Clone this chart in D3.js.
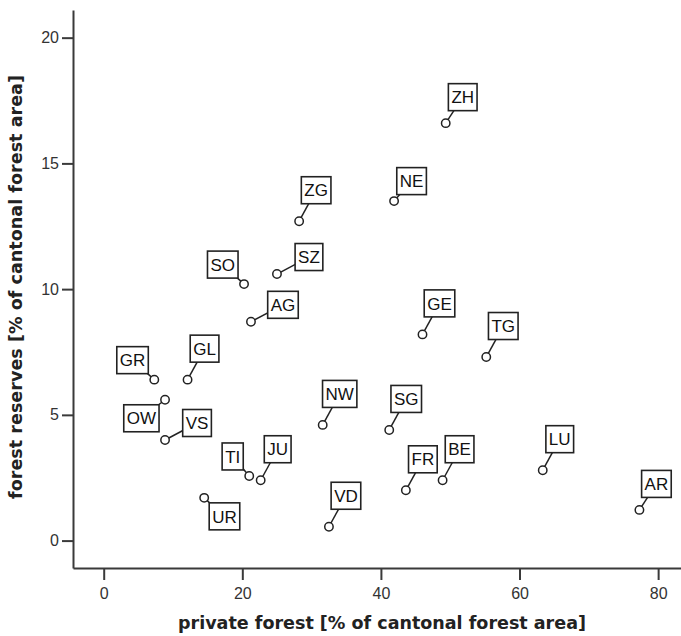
<!DOCTYPE html>
<html>
<head>
<meta charset="utf-8">
<script src="https://cdn.jsdelivr.net/npm/d3@7"></script>
<style>
  html, body { margin: 0; padding: 0; background: #fff; }
  svg { display: block; }
  text { font-family: "Liberation Sans", Arial, sans-serif; }
</style>
</head>
<body>
<svg id="chart" width="681" height="636"></svg>
<script>
// ---- data ----
const cantons   = ["ZH","NE","ZG","SO","SZ","AG","GE","TG","GR","GL","OW","VS","NW","SG","TI","JU","LU","FR","BE","UR","VD","AR"];
const privateForest = [49.35,41.9,28.2,20.25,25.0,21.25,46.0,55.2,7.3,12.1,8.85,8.85,31.6,41.2,21.0,22.65,63.35,43.6,48.9,14.5,32.5,77.3];
const forestReserves = [16.6,13.5,12.7,10.2,10.6,8.7,8.2,7.3,6.4,6.4,5.6,4.0,4.6,4.4,2.57,2.4,2.8,2.0,2.4,1.7,0.55,1.22];
const placement = ["neMid","neNear","ne","nw","e","e","ne","ne","nw","ne","sw","e","ne","ne","nw","ne","ne","ne","ne","se","ne","neMid"];
const xTicks = [0,20,40,60,80];
const yTicks = [0,5,10,15,20];
const xTitle = "private forest [% of cantonal forest area]";
const yTitle = "forest reserves [% of cantonal forest area]";

const svg = d3.select("#chart");
const axisColor = "#3a3a3a";

const x = d3.scaleLinear().domain([-4.43, 83.3]).range([73, 681]);
const y = d3.scaleLinear().domain([-1.09, 21.1]).range([568, 10]);

// axes
const gx = svg.append("g").attr("transform", "translate(0,568)")
  .call(d3.axisBottom(x).tickValues(xTicks).tickSize(12).tickSizeOuter(0).tickPadding(8).tickFormat(d3.format("d")));
const gy = svg.append("g").attr("transform", "translate(73,0)")
  .call(d3.axisLeft(y).tickValues(yTicks).tickSize(11).tickSizeOuter(0).tickPadding(3).tickFormat(d3.format("d")));

[gx, gy].forEach(g => {
  g.select(".domain").attr("stroke", axisColor).attr("stroke-width", 2);
  g.selectAll(".tick line").attr("stroke", axisColor).attr("stroke-width", 2);
  g.selectAll(".tick text").attr("fill", "#333").style("font-size", "16px")
    .style("font-family", "'Liberation Sans', Arial, sans-serif");
});

// axis titles (sized to the reference's measured widths)
function fitTitle(sel, target) {
  sel.style("font-size", "16px");
  const len = sel.node().getComputedTextLength();
  sel.style("font-size", (16 * target / len).toFixed(2) + "px");
}
const tx = svg.append("text").attr("x", 382).attr("y", 629).attr("text-anchor", "middle")
  .style("font-family", "'DejaVu Sans', Verdana, sans-serif")
  .style("font-weight", "bold").attr("fill", "#222").text(xTitle);
fitTitle(tx, 408);
const ty = svg.append("text").attr("transform", "translate(22,287) rotate(-90)").attr("text-anchor", "middle")
  .style("font-family", "'DejaVu Sans', Verdana, sans-serif")
  .style("font-weight", "bold").attr("fill", "#222").text(yTitle);
fitTitle(ty, 424);

// label placement rules (box offsets relative to the point)
const boxH = 27, pad = 3;
function boxFor(px, py, w, code) {
  switch (code) {
    case "ne":     return [px + 17 - w / 2, py - 31 - boxH / 2];
    case "neMid":  return [px + 17 - w / 2, py - 26 - boxH / 2];
    case "neNear": return [px + 17.5 - w / 2, py - 20 - boxH / 2];
    case "e":      return [px + 32 - w / 2, py - 17 - boxH / 2];
    case "nw":     return [px - 6 - w, py - 6 - boxH];
    case "sw":     return [px - 6 - w, py + 5];
    case "se":     return [px + 5, py + 5];
  }
  return [px, py];
}

const data = cantons.map((c, i) => ({ name: c, x: privateForest[i], y: forestReserves[i], pos: placement[i] }));

const gLabels = svg.append("g");
data.forEach(d => {
  const px = x(d.x), py = y(d.y);
  const g = gLabels.append("g");
  const line = g.append("line");
  const rect = g.append("rect");
  const t = g.append("text").style("font-size", "17px").attr("fill", "#111").text(d.name);
  const w = t.node().getComputedTextLength() + 2 * pad;
  const [bl, bt] = boxFor(px, py, w, d.pos);
  line.attr("x1", px).attr("y1", py).attr("x2", bl + w / 2).attr("y2", bt + boxH / 2)
    .attr("stroke", "#222").attr("stroke-width", 1.5);
  rect.attr("x", bl).attr("y", bt).attr("width", w).attr("height", boxH)
    .attr("fill", "#fff").attr("stroke", "#222").attr("stroke-width", 1.6);
  t.attr("x", bl + w / 2).attr("y", bt + boxH / 2 + 6.2).attr("text-anchor", "middle");
  g.append("circle").attr("cx", px).attr("cy", py).attr("r", 4.2)
    .attr("fill", "#fff").attr("stroke", "#222").attr("stroke-width", 1.5);
});
</script>
</body>
</html>
